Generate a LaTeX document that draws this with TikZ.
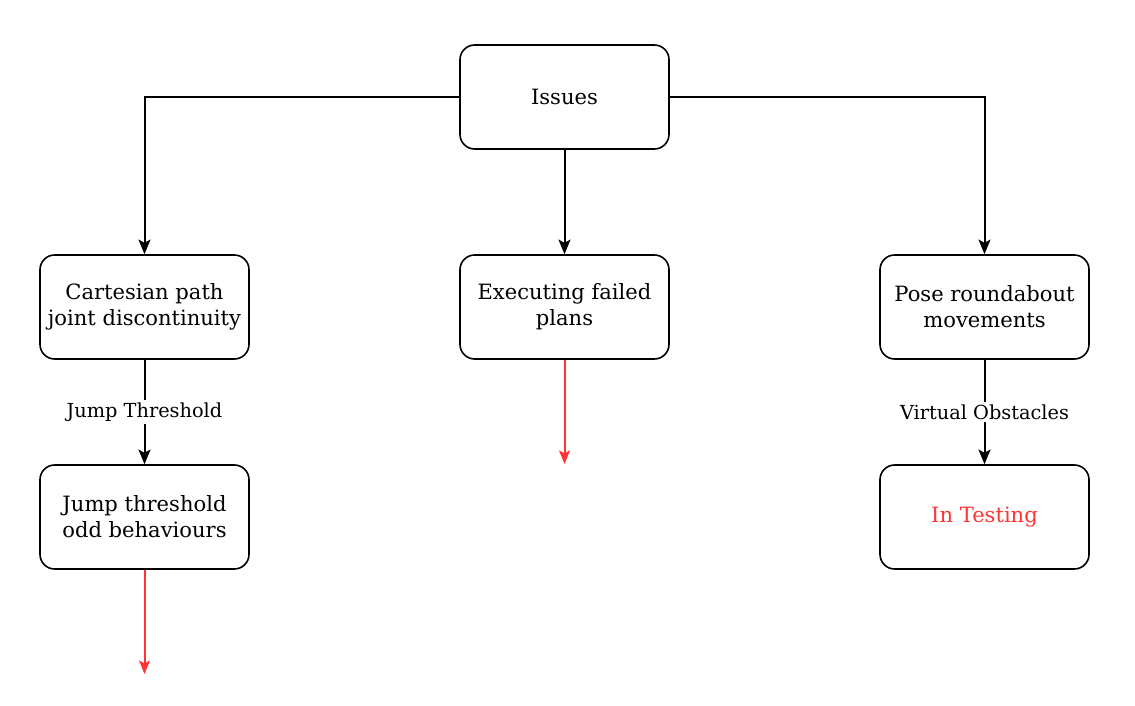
\documentclass[tikz,border=0pt]{standalone}
\usepackage{fontspec}
\setmainfont{DejaVu Serif}
\usetikzlibrary{arrows.meta,positioning}
\definecolor{warnred}{HTML}{FF3333}

\begin{document}
\begin{tikzpicture}[x=0.75pt,y=-0.75pt,
				box/.style={draw,line width=1.2pt,rounded corners=11pt,
					minimum width=156.75pt,minimum height=78pt,align=center,
					font=\fontsize{15.8}{19.5}\selectfont,
					execute at begin node={\vspace*{4pt}}},
				link/.style={-{Stealth[length=11pt,width=9pt,inset=2.5pt]},line width=1.5pt},
				open/.style={-{Stealth[length=10pt,width=8pt,inset=2pt]},line width=1.5pt,warnred},
				tag/.style={fill=white,inner sep=2pt,font=\fontsize{14.5}{17}\selectfont}]
				\useasboundingbox (0,0) rectangle (1135,706);
				\node[box] (issues) at (564.5,97)  {Issues};
				\node[box] (cart)   at (144.5,307) {Cartesian path\\joint discontinuity};
				\node[box] (exec)   at (564.5,307) {Executing failed\\plans};
				\node[box] (pose)   at (984.5,307) {Pose roundabout\\movements};
				\node[box] (jump)   at (144.5,517) {Jump threshold\\odd behaviours};
				\node[box,text=warnred] (test) at (984.5,517) {In Testing};
				\coordinate (execEnd) at (564.5,464);
				\coordinate (jumpEnd) at (144.5,674);
				\draw[link] (issues.west) -| (cart.north);
				\draw[link] (issues.south) -- (exec.north);
				\draw[link] (issues.east) -| (pose.north);
				\draw[link] (cart.south) -- node[tag] {Jump Threshold} (jump.north);
				\draw[link] (pose.south) -- node[tag] {Virtual Obstacles} (test.north);
				\draw[open] (exec.south) -- (execEnd);
				\draw[open] (jump.south) -- (jumpEnd);
			\end{tikzpicture}
\end{document}
